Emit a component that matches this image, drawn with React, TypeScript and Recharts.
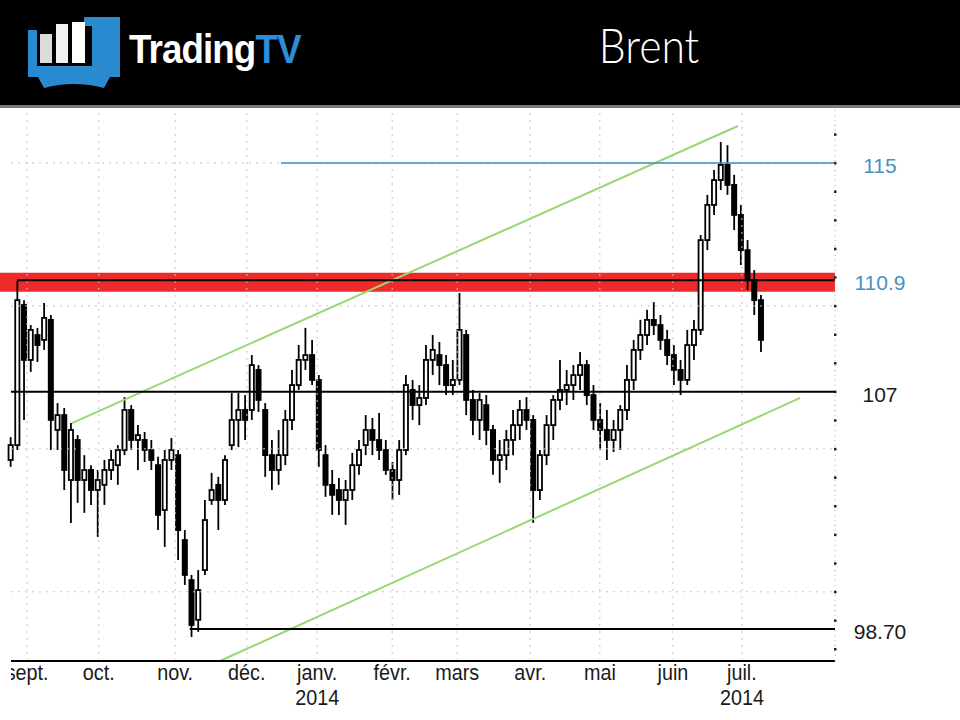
import React from 'react';
import { Bar, ComposedChart, ReferenceArea, ReferenceLine, XAxis, YAxis } from 'recharts';

// Brent, barres de ~2 séances, fin août 2013 -> mi-juillet 2014
const OPEN = [
  104.61, 105.13, 110.03, 108.11, 108.98, 108.81, 109.51, 105.66, 106.18, 103.91,
  105.31, 103.91, 104.26, 103.56, 103.74, 104.26, 104.43, 104.96, 106.36, 105.31,
  105.31, 104.96, 104.43, 102.86, 104.61, 104.78, 101.81, 100.41, 99.02, 100.76,
  103.21, 103.74, 103.21, 105.13, 106.01, 106.36, 106.36, 107.76, 106.36, 104.78,
  104.26, 104.78, 106.01, 107.23, 108.11, 108.28, 107.41, 104.78, 103.74, 103.56,
  103.21, 103.56, 104.43, 105.13, 105.66, 105.31, 104.96, 104.26, 103.91, 104.96,
  107.06, 106.53, 106.78, 108.11, 108.28, 107.93, 107.23, 107.41, 108.98, 106.71,
  106.01, 106.53, 105.66, 104.61, 104.78, 105.31, 105.83, 106.36, 106.01, 103.56,
  104.78, 105.83, 106.71, 107.06, 107.23, 107.58, 107.93, 106.88, 106.01, 105.66,
  105.31, 105.66, 106.36, 107.41, 108.46, 108.98, 109.51, 109.33, 108.81, 108.28,
  107.76, 107.41, 108.63, 109.16, 112.3, 113.53, 114.4, 114.93, 114.23, 113.18,
  111.95, 110.9, 110.2,
];
const HIGH = [
  105.41, 110.87, 110.2, 109.33, 109.23, 110.1, 109.68, 106.6, 106.43, 105.9,
  105.48, 104.78, 104.43, 104.26, 104.61, 104.96, 105.13, 106.81, 106.53, 105.83,
  105.59, 105.31, 104.72, 104.96, 105.38, 104.96, 102.16, 100.59, 100.76, 103.21,
  104.16, 104.02, 104.78, 106.95, 106.95, 106.88, 108.28, 107.93, 106.6, 105.31,
  105.66, 106.36, 107.76, 108.63, 109.23, 108.81, 107.58, 105.13, 104.26, 103.98,
  103.91, 104.86, 105.31, 106.18, 106.08, 106.25, 105.31, 104.54, 105.31, 107.58,
  107.41, 107.23, 108.63, 108.98, 108.74, 108.28, 108.11, 110.45, 109.16, 107.06,
  106.95, 106.88, 105.83, 105.31, 105.66, 106.36, 106.71, 106.81, 106.18, 104.96,
  106.18, 106.88, 108.11, 107.76, 107.93, 108.39, 108.11, 107.23, 106.6, 106.36,
  106.01, 106.53, 107.93, 108.81, 109.51, 109.86, 110.13, 109.68, 109.16, 108.63,
  108.11, 109.16, 109.51, 112.48, 113.88, 114.75, 115.73, 115.62, 114.58, 113.53,
  112.3, 111.25, 110.38,
];
const LOW = [
  104.37, 104.96, 106.01, 107.69, 108.04, 108.46, 104.96, 104.96, 103.56, 102.41,
  103.11, 102.76, 103.04, 101.92, 103.04, 103.91, 103.74, 104.78, 104.96, 104.26,
  104.54, 104.26, 102.16, 101.57, 104.26, 101.11, 100.24, 98.42, 98.6, 100.59,
  103.04, 102.16, 103.04, 104.96, 105.06, 105.31, 106.01, 106.29, 104.02, 103.56,
  103.74, 104.43, 105.66, 107.06, 107.76, 107.23, 104.37, 103.32, 102.69, 102.69,
  102.34, 103.21, 104.09, 104.78, 104.78, 104.61, 104.09, 103.21, 103.39, 104.78,
  106.01, 105.83, 106.53, 107.58, 107.23, 106.88, 106.88, 107.23, 106.18, 105.48,
  105.31, 105.13, 104.09, 103.81, 104.26, 104.78, 105.31, 105.66, 102.41, 103.21,
  104.43, 105.31, 106.36, 106.53, 106.71, 107.06, 106.53, 105.66, 104.96, 104.61,
  104.89, 104.96, 106.01, 107.06, 108.11, 108.63, 108.98, 108.46, 107.93, 107.23,
  106.88, 107.23, 108.11, 108.98, 111.95, 113.18, 114.05, 113.88, 112.65, 111.43,
  110.55, 109.68, 108.39,
];
const CLOSE = [
  105.13, 110.2, 108.11, 109.16, 108.63, 109.58, 106.01, 106.18, 104.26, 105.66,
  103.91, 104.26, 103.56, 103.91, 104.26, 104.61, 104.96, 106.36, 105.31, 105.48,
  104.96, 104.61, 102.69, 104.61, 104.96, 102.16, 100.59, 98.84, 100.06, 102.51,
  103.56, 103.21, 104.61, 106.01, 106.36, 106.01, 107.93, 106.71, 104.78, 104.26,
  104.78, 106.01, 107.23, 108.11, 108.28, 107.41, 104.96, 103.74, 103.39, 103.21,
  103.56, 104.43, 104.96, 105.66, 105.31, 104.96, 104.26, 103.91, 104.96, 107.23,
  106.53, 106.78, 108.11, 108.46, 107.93, 107.23, 107.41, 109.16, 106.71, 106.01,
  106.71, 105.66, 104.61, 104.78, 105.31, 105.83, 106.36, 106.01, 103.56, 104.78,
  105.83, 106.71, 107.06, 107.23, 107.58, 107.93, 106.88, 106.01, 105.66, 105.31,
  105.66, 106.36, 107.41, 108.46, 108.98, 109.51, 109.33, 108.81, 108.28, 107.76,
  107.41, 108.63, 109.16, 112.3, 113.53, 114.4, 114.93, 114.23, 113.18, 111.95,
  110.9, 110.2, 108.81,
];

// axe des temps : position (en barres) du début de chaque mois
const MONTHS = ['sept.', 'oct.', 'nov.', 'déc.', 'janv.', 'févr.', 'mars', 'avr.', 'mai', 'juin', 'juil.'];
const YEARS = ['', '', '', '', '2014', '', '', '', '', '', '2014'];
const MONTH_POS = [2.4, 13.1, 24.5, 35.2, 45.7, 56.9, 66.6, 77.5, 87.9, 98.8, 109.1];

// niveaux tracés et leurs étiquettes
const LEVELS = [115, 110.9, 107, 98.7];
const LEVEL_TEXT = ['115', '110.9', '107', '98.70'];
const LEVEL_START = [40.3, 0.9, 0, 26.7];
const RED_ZONE = [110.49, 111.16];
const GRID_LEVELS = [100, 105, 110, 115];
const AXIS_DOTS = [98, 99, 100, 101, 102, 103, 104, 105, 106, 107, 108, 109, 110, 111, 112, 113, 114, 115, 116];

// canal haussier (barre, prix)
const CHANNEL_UPPER = [[9.1, 105.9], [108.5, 116.29]];
const CHANNEL_LOWER = [[31.2, 97.58], [117.8, 106.78]];

const X_DOMAIN = [-1.64, 123];
const Y_DOMAIN = [97.58, 116.85];

const rows = CLOSE.map((c, i) => ({
  i,
  open: OPEN[i],
  high: HIGH[i],
  low: LOW[i],
  close: c,
  range: [LOW[i], HIGH[i]],
}));

const FONT = "'Liberation Sans', Arial, sans-serif";
const BLUE = '#4592c4';

function Candle(props: any) {
  const { x, y, width, height, payload } = props;
  if (x == null || y == null) return null;
  const top = Math.min(y, y + height);
  const h = Math.abs(height);
  const { open, close, high, low } = payload;
  const k = high > low ? h / (high - low) : 0;
  const at = (v: number) => top + (high - v) * k;
  const bTop = at(Math.max(open, close));
  const bBot = Math.max(at(Math.min(open, close)), bTop + 1);
  const cx = x + width / 2;
  const up = close >= open;
  return (
    <g>
      <line x1={cx} x2={cx} y1={top} y2={bTop} stroke="#000" strokeWidth={1.8} />
      <line x1={cx} x2={cx} y1={bBot} y2={top + h} stroke="#000" strokeWidth={1.8} />
      <rect
        x={x + 0.9}
        y={bTop}
        width={width - 1.8}
        height={bBot - bTop}
        fill={up ? '#fff' : '#000'}
        stroke="#000"
        strokeWidth={1.8}
      />
    </g>
  );
}

function XTick(props: any) {
  const { x, y, payload } = props;
  const k = MONTH_POS.indexOf(payload.value);
  if (k < 0) return null;
  // le premier libellé est rogné par le bord gauche du graphique, comme sur l'original
  return (
    <g transform={`translate(${x},${y})`}>
      {k === 0 ? (
        <defs>
          <clipPath id="first-month-clip">
            <rect x={11 - x} y={0} width={200} height={60} />
          </clipPath>
        </defs>
      ) : null}
      <g clipPath={k === 0 ? 'url(#first-month-clip)' : undefined}>
        <text transform="scale(0.9,1)" y={19} textAnchor="middle" fontSize={22} fill="#1a1a1a" fontFamily={FONT}>
          {MONTHS[k]}
        </text>
      </g>
      {YEARS[k] ? (
        <text transform="scale(0.9,1)" y={44} textAnchor="middle" fontSize={22} fill="#1a1a1a" fontFamily={FONT}>
          {YEARS[k]}
        </text>
      ) : null}
    </g>
  );
}

function YTick(props: any) {
  const { x, y, payload } = props;
  const v = payload.value;
  const k = LEVELS.indexOf(v);
  return (
    <g>
      {Number.isInteger(v) ? <rect x={x - 1} y={y - 1} width={2.5} height={2.5} fill="#222" /> : null}
      {k >= 0 ? (
        <text
          x={x + 45}
          y={y}
          dy={10}
          textAnchor="middle"
          fontSize={21}
          fill={k < 2 ? BLUE : '#1a1a1a'}
          fontFamily={FONT}
        >
          {LEVEL_TEXT[k]}
        </text>
      ) : null}
    </g>
  );
}

function Header() {
  return (
    <svg width={960} height={108} style={{ position: 'absolute', left: 0, top: 0, zIndex: 2 }}>
      <rect width={960} height={108} fill="#000" />
      <rect y={105} width={960} height={3} fill="#7a7a7a" />
      <path d="M28 30 H37 V66 H92 V26 H84 V17 H120 V77 H28 Z" fill="#2a8ad0" />
      <rect x={40} y={34} width={12} height={29} fill="#dcdcdc" />
      <rect x={56} y={24} width={12} height={39} fill="#f2f2f2" />
      <rect x={72} y={22} width={13} height={41} fill="#ffffff" />
      <path d="M38 77 H110 L104 88 Q74 80 44 88 Z" fill="#2a8ad0" />
      <text
        transform="translate(129,63) scale(0.92,1)"
        fontSize={40}
        fontWeight="bold"
        fill="#fff"
        fontFamily={FONT}
        letterSpacing={-1}
      >
        Trading<tspan fill="#2a8fd6">TV</tspan>
      </text>
      <text
        transform="translate(649,63) scale(0.89,1)"
        textAnchor="middle"
        fontSize={48}
        fontWeight={300}
        fill="#fff"
        fontFamily="Lato, 'Open Sans', sans-serif"
      >
        Brent
      </text>
    </svg>
  );
}

export default function App() {
  return (
    <div style={{ position: 'absolute', left: 0, top: 0, width: 960, height: 720, background: '#fff', overflow: 'hidden' }}>
      <Header />
      <div style={{ position: 'absolute', left: 0, top: 0 }}>
        <ComposedChart width={960} height={720} data={rows} margin={{ top: 110, right: 10, bottom: 0, left: 0 }}>
          <XAxis
            dataKey="i"
            type="number"
            domain={X_DOMAIN}
            ticks={MONTH_POS}
            interval={0}
            tickLine={false}
            axisLine={false}
            tickSize={0}
            tickMargin={0}
            height={59}
            tick={<XTick />}
            allowDataOverflow
          />
          <YAxis
            orientation="right"
            type="number"
            domain={Y_DOMAIN}
            ticks={[...AXIS_DOTS, 98.7, 110.9].sort((a, b) => a - b)}
            interval={0}
            width={115}
            tickLine={false}
            tickSize={0}
            tickMargin={0}
            axisLine={{ stroke: '#b0b0b0', strokeDasharray: '1 4' }}
            tick={<YTick />}
            allowDataOverflow
          />
          {MONTH_POS.map((p) => (
            <ReferenceLine key={`v${p}`} x={p} stroke="#c4c4c4" strokeDasharray="2 5" />
          ))}
          {GRID_LEVELS.map((g) => (
            <ReferenceLine
              key={`h${g}`}
              segment={[{ x: 0, y: g }, { x: X_DOMAIN[1], y: g }]}
              stroke="#c4c4c4"
              strokeDasharray="2 5"
            />
          ))}
          <ReferenceArea y1={RED_ZONE[0]} y2={RED_ZONE[1]} fill="#ee2a2a" fillOpacity={1} stroke="none" />
          <ReferenceLine
            segment={[{ x: CHANNEL_UPPER[0][0], y: CHANNEL_UPPER[0][1] }, { x: CHANNEL_UPPER[1][0], y: CHANNEL_UPPER[1][1] }]}
            stroke="#97d872"
            strokeWidth={2}
            ifOverflow="visible"
          />
          <ReferenceLine
            segment={[{ x: CHANNEL_LOWER[0][0], y: CHANNEL_LOWER[0][1] }, { x: CHANNEL_LOWER[1][0], y: CHANNEL_LOWER[1][1] }]}
            stroke="#97d872"
            strokeWidth={2}
            ifOverflow="visible"
          />
          {LEVELS.map((lv, k) => (
            <ReferenceLine
              key={`l${lv}`}
              segment={[{ x: LEVEL_START[k], y: lv }, { x: X_DOMAIN[1], y: lv }]}
              stroke={k === 0 ? '#3a8ec2' : '#000'}
              strokeWidth={k === 0 ? 1.5 : 2}
              ifOverflow="visible"
            />
          ))}
          <ReferenceLine
            segment={[{ x: 0, y: Y_DOMAIN[0] }, { x: X_DOMAIN[1], y: Y_DOMAIN[0] }]}
            stroke="#000"
            strokeWidth={2}
            ifOverflow="visible"
          />
          <Bar dataKey="range" barSize={6} shape={Candle} isAnimationActive={false} />
        </ComposedChart>
      </div>
    </div>
  );
}
